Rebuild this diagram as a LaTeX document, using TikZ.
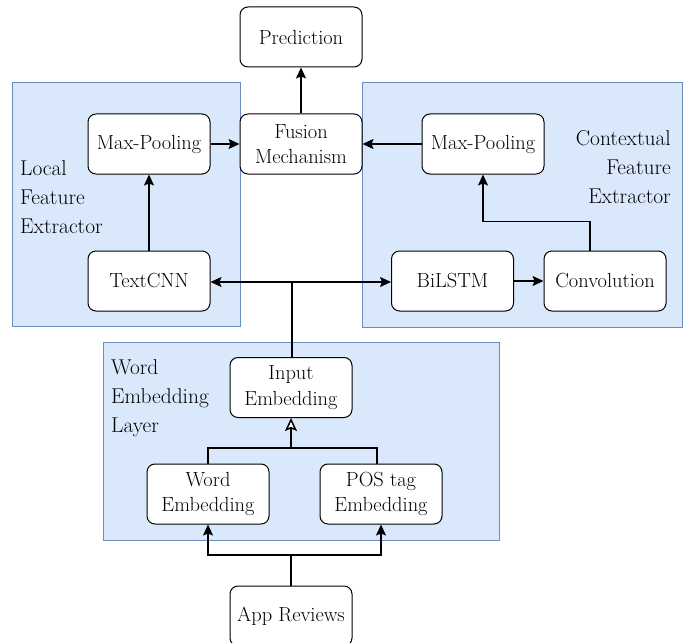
\documentclass[tikz,border=0pt]{standalone}
\usepackage{fontspec}
\usetikzlibrary{arrows.meta,calc}
\begin{document}
\begin{tikzpicture}[x=1bp,y=-1bp,
  panel/.style={draw=panelline,fill=panelfill,line width=1bp},
  blk/.style={draw=black,fill=white,rounded corners=8bp,line width=1bp,
    minimum width=122bp,minimum height=60bp,align=center,inner sep=1bp,
    font=\fontsize{20.5}{25.5}\selectfont},
  lbl/.style={font=\fontsize{21.5}{29.5}\selectfont,inner sep=0pt},
  conn/.style={line width=1.2bp,-{Stealth[length=11bp,width=10bp,inset=2bp]}},
  openconn/.style={line width=1.2bp,-{Stealth[length=13bp,width=12bp,inset=2.5bp,open,fill=white,line width=1.5bp]}},
  wire/.style={line width=1.2bp}]
\definecolor{panelfill}{HTML}{DAE8FC}
\definecolor{panelline}{HTML}{6C8EBF}
\useasboundingbox (0,0) rectangle (696,643);

% group panels
\draw[panel] (12,83) rectangle (240,326);
\draw[panel] (362,83) rectangle (682,327);
\draw[panel] (103,342) rectangle (499,540);

% panel captions
\node[lbl,anchor=north west,align=left] (capL) at (20,160) {Local\\Feature\\Extractor};
\node[lbl,anchor=north east,align=right] (capR) at (671,130) {Contextual\\Feature\\Extractor};
\node[lbl,anchor=north west,align=left] (capB) at (111,359) {Word\\Embedding\\Layer};

% blocks
\node[blk] (pred) at (301,37) {Prediction};
\node[blk] (mpL) at (149,144) {Max-Pooling};
\node[blk] (fus) at (301,144) {Fusion\\Mechanism};
\node[blk] (mpR) at (483,144) {Max-Pooling};
\node[blk] (cnn) at (149,281) {TextCNN};
\node[blk] (lstm) at (452.5,281) {BiLSTM};
\node[blk] (conv) at (605,281) {Convolution};
\node[blk] (inp) at (291,387.5) {Input\\Embedding};
\node[blk] (wemb) at (208,494) {Word\\Embedding};
\node[blk] (pemb) at (381,494) {POS tag\\Embedding};
\node[blk] (app) at (291,616) {App Reviews};

% junction points
\coordinate (split) at (292,282);
\coordinate (merge) at (291,448);
\coordinate (fork) at (291,555);

% connectors
\draw[conn] (fus) -- (pred);
\draw[conn] (mpL) -- (fus);
\draw[conn] (mpR) -- (fus);
\draw[conn] (cnn) -- (mpL);
\draw[wire] (inp.north -| split) -- (split);
\draw[conn] (split) -- (cnn.east |- split);
\draw[conn] (split) -- (lstm.west |- split);
\draw[conn] (lstm) -- (conv);
\draw[conn] ([xshift=-15bp]conv.north) |- ($(mpR.south)+(0,47)$) -- (mpR.south);
\draw[wire] (wemb.north) |- (merge) -| ([xshift=-4bp]pemb.north);
\draw[openconn] (merge) -- (inp.south);
\draw[wire] (app.north) -- (fork);
\draw[conn] (fork) -| (wemb.south);
\draw[conn] (fork) -| (pemb.south);
\end{tikzpicture}
\end{document}
